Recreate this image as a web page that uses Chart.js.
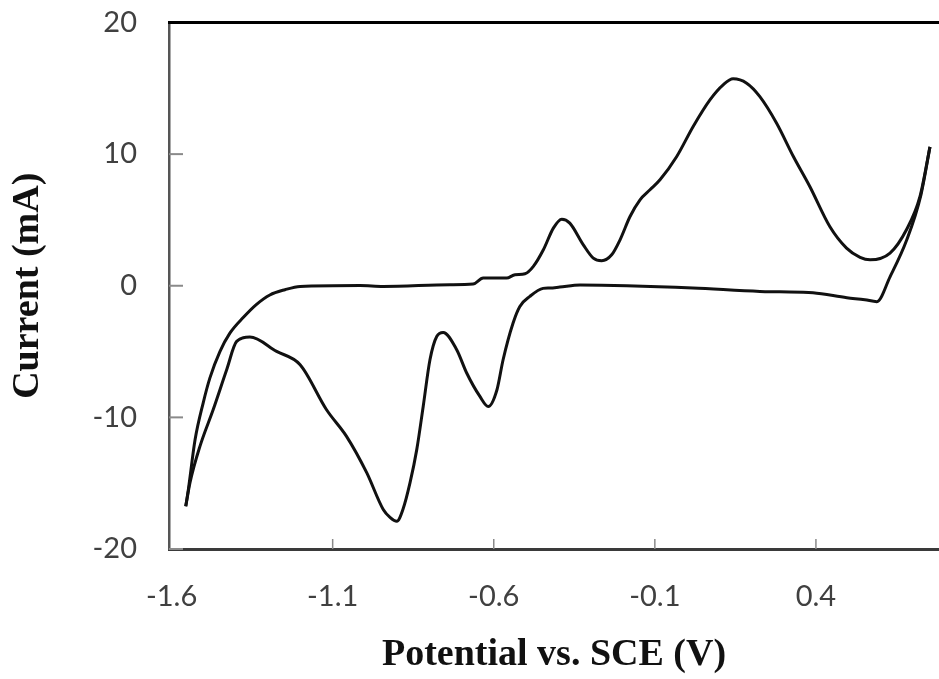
<!DOCTYPE html>
<html>
<head>
<meta charset="utf-8">
<script src="https://cdn.jsdelivr.net/npm/chart.js@4"></script>
<style>
  html, body { margin: 0; padding: 0; background: #ffffff; }
  #wrap { width: 939px; height: 679px; }
</style>
</head>
<body>
<div id="wrap"><canvas id="c" width="939" height="679"></canvas></div>
<script>
// Cathodic (forward) scan: potential decreasing from the right vertex to the left vertex
const cathodicPotential = [
  0.754, 0.726, 0.682, 0.630, 0.589, 0.552, 0.496, 0.391, 0.288, 0.226, 0.018, -0.187, -0.332, -0.395, -0.426, -0.447,
  -0.488, -0.519, -0.540, -0.571, -0.590, -0.617, -0.643, -0.684, -0.715, -0.757, -0.777, -0.798, -0.819, -0.839,
  -0.860, -0.882, -0.901, -0.922, -0.943, -0.994, -1.057, -1.119, -1.201, -1.274, -1.357, -1.398, -1.429, -1.471,
  -1.512, -1.543, -1.556
];
const cathodicCurrent = [
  10.55, 6.91, 3.49, 0.68, -1.21, -1.06, -0.91, -0.53, -0.46, -0.43, -0.17, 0.0, 0.05, -0.10, -0.17, -0.20,
  -0.81, -1.57, -2.83, -5.62, -7.90, -9.17, -8.41, -6.63, -4.86, -3.55, -3.85, -5.62, -9.17, -12.45,
  -14.98, -17.0, -17.90, -17.6, -17.0, -14.22, -11.44, -9.42, -6.00, -4.99, -3.90, -4.23, -6.38, -9.42,
  -12.2, -14.98, -16.76
];
// Anodic (reverse) scan: potential increasing from the left vertex back to the right vertex
const anodicPotential = [
  -1.556, -1.548, -1.527, -1.502, -1.481, -1.450, -1.419, -1.377, -1.338, -1.295, -1.248, -1.201, -1.015, -0.943, -0.736,
  -0.664, -0.633, -0.560, -0.534, -0.503, -0.477, -0.446, -0.415, -0.389, -0.364, -0.322, -0.291, -0.265, -0.234,
  -0.208, -0.177, -0.146, -0.115, -0.084, -0.032, 0.019, 0.071, 0.112, 0.143, 0.185, 0.226, 0.278, 0.330, 0.381,
  0.443, 0.495, 0.537, 0.568, 0.630, 0.681, 0.723, 0.754
];
const anodicCurrent = [
  -16.76, -15.49, -11.69, -8.91, -7.0, -5.0, -3.6, -2.4, -1.45, -0.7, -0.30, -0.05, 0.02, -0.05, 0.08,
  0.13, 0.58, 0.58, 0.84, 0.91, 1.47, 2.73, 4.38, 5.06, 4.76, 3.11, 2.10, 1.90, 2.35,
  3.49, 5.26, 6.53, 7.29, 8.05, 9.82, 12.10, 14.12, 15.26, 15.72, 15.39, 14.37, 12.35, 9.82, 7.54,
  4.50, 2.86, 2.16, 1.97, 2.48, 4.25, 6.78, 10.55
];
const xTicks = [-1.6, -1.1, -0.6, -0.1, 0.4];
const yTicks = [-20, -10, 0, 10, 20];
const xTitle = 'Potential vs. SCE (V)';
const yTitle = 'Current (mA)';

const toPoints = (xs, ys) => xs.map((v, i) => ({ x: v, y: ys[i] }));

const frame = {
  id: 'frame',
  afterDatasetsDraw(chart) {
    const { ctx, chartArea: a, scales: { x, y } } = chart;
    ctx.save();
    ctx.strokeStyle = '#8a8a8a';
    ctx.lineWidth = 1.5;
    xTicks.forEach(v => {
      const px = x.getPixelForValue(v);
      if (px - a.left < 4) return;
      ctx.beginPath();
      ctx.moveTo(px, a.bottom);
      ctx.lineTo(px, a.bottom - 10);
      ctx.stroke();
    });
    ctx.lineWidth = 2;
    yTicks.forEach(v => {
      const py = y.getPixelForValue(v);
      ctx.beginPath();
      ctx.moveTo(a.left, py);
      ctx.lineTo(a.left + 14, py);
      ctx.stroke();
    });
    ctx.strokeStyle = '#000000';
    ctx.lineWidth = 3;
    ctx.beginPath();
    ctx.moveTo(a.left - 1, a.top);
    ctx.lineTo(a.right, a.top);
    ctx.stroke();
    ctx.restore();
  }
};

const lineStyle = {
  showLine: true,
  borderColor: '#111111',
  borderWidth: 3,
  pointRadius: 0,
  cubicInterpolationMode: 'monotone',
  fill: false
};

new Chart(document.getElementById('c'), {
  type: 'scatter',
  data: {
    datasets: [
      Object.assign({ label: 'Cathodic scan', data: toPoints(cathodicPotential, cathodicCurrent) }, lineStyle),
      Object.assign({ label: 'Anodic scan', data: toPoints(anodicPotential, anodicCurrent) }, lineStyle)
    ]
  },
  options: {
    responsive: false,
    animation: false,
    events: [],
    layout: { padding: { top: 22.5, right: 0, left: 0, bottom: 0 } },
    plugins: { legend: { display: false }, tooltip: { enabled: false } },
    scales: {
      x: {
        type: 'linear',
        min: -1.608,
        max: 0.782,
        afterBuildTicks: s => { s.ticks = xTicks.map(v => ({ value: v })); },
        afterFit: s => { s.height = 130; s.paddingLeft = 0; s.paddingRight = 0; },
        grid: { display: false, drawTicks: false },
        border: { display: true, color: '#3a3a3a', width: 3 },
        ticks: {
          padding: 30,
          color: '#404040',
          font: { family: 'Lato', size: 29 },
          callback: v => String(v)
        },
        title: {
          display: true,
          text: xTitle,
          color: '#111111',
          font: { family: 'Liberation Serif', size: 38, weight: 'bold' },
          padding: { top: 0, bottom: 1 }
        }
      },
      y: {
        type: 'linear',
        min: -20,
        max: 20,
        afterBuildTicks: s => { s.ticks = yTicks.map(v => ({ value: v })); },
        afterFit: s => { s.width = 169; s.paddingTop = 0; s.paddingBottom = 0; },
        grid: { display: false, drawTicks: false },
        border: { display: true, color: '#555555', width: 2.5 },
        ticks: {
          padding: 32,
          color: '#404040',
          font: { family: 'Lato', size: 29 },
          callback: v => String(v)
        },
        title: {
          display: true,
          text: yTitle,
          color: '#111111',
          font: { family: 'Liberation Serif', size: 38, weight: 'bold' },
          padding: { top: 5, bottom: 0 }
        }
      }
    }
  },
  plugins: [frame]
});
</script>
</body>
</html>
